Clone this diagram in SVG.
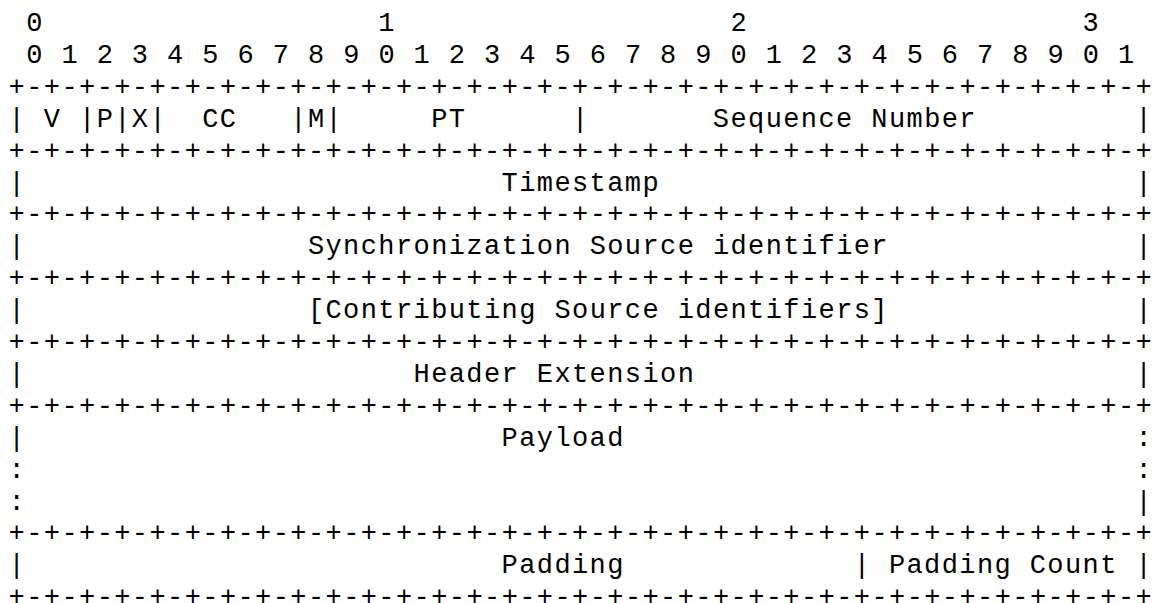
<svg xmlns="http://www.w3.org/2000/svg" xmlns:xlink="http://www.w3.org/1999/xlink" width="1152" height="603" viewBox="0 0 1152 603">
<style>
.t{font-family:"Liberation Mono","DejaVu Sans Mono",monospace;font-size:27px;letter-spacing:1.406px;fill:#000;white-space:pre}
.c{font-family:"Liberation Mono","DejaVu Sans Mono",monospace;font-size:27px;fill:#000}
</style>
<defs>
<g id="sep">
<text class="t" x="8.6" xml:space="preserve">+-+-+-+-+-+-+-+-+-+-+-+-+-+-+-+-+-+-+-+-+-+-+-+-+-+-+-+-+-+-+-+-</text>
<text class="c" x="1135.38">+</text>
</g>
</defs>
<rect width="1152" height="603" fill="#fff"/>
<g id="bit-numbers">
<text class="c" x="26.21" y="31">0</text>
<text class="c" x="378.33" y="31">1</text>
<text class="c" x="730.45" y="31">2</text>
<text class="c" x="1082.57" y="31">3</text>
<text class="t" x="26.21" y="62.9" xml:space="preserve">0 1 2 3 4 5 6 7 8 9 0 1 2 3 4 5 6 7 8 9 0 1 2 3 4 5 6 7 8 9 0 1</text>
</g>
<g id="connectors">
<use xlink:href="#sep" href="#sep" y="94.8"/>
<use xlink:href="#sep" href="#sep" y="158.6"/>
<use xlink:href="#sep" href="#sep" y="222.4"/>
<use xlink:href="#sep" href="#sep" y="286.2"/>
<use xlink:href="#sep" href="#sep" y="350"/>
<use xlink:href="#sep" href="#sep" y="413.8"/>
<use xlink:href="#sep" href="#sep" y="541.4"/>
<use xlink:href="#sep" href="#sep" y="605.2"/>
</g>
<g id="row-header-word0">
<text class="c" x="8.6" y="126.7">|</text>
<text class="c" x="43.81" y="126.7">V</text>
<text class="c" x="79.02" y="126.7">|</text>
<text class="c" x="96.63" y="126.7">P</text>
<text class="c" x="114.24" y="126.7">|</text>
<text class="c" x="131.84" y="126.7">X</text>
<text class="c" x="149.45" y="126.7">|</text>
<text class="t" x="202.27" y="126.7">CC</text>
<text class="c" x="290.3" y="126.7">|</text>
<text class="c" x="307.9" y="126.7">M</text>
<text class="c" x="325.51" y="126.7">|</text>
<text class="t" x="431.14" y="126.7">PT</text>
<text class="c" x="571.99" y="126.7">|</text>
<text class="t" x="712.84" y="126.7">Sequence Number</text>
<text class="c" x="1135.38" y="126.7">|</text>
</g>
<g id="row-timestamp">
<text class="c" x="8.6" y="190.5">|</text>
<text class="t" x="501.57" y="190.5">Timestamp</text>
<text class="c" x="1135.38" y="190.5">|</text>
</g>
<g id="row-ssrc">
<text class="c" x="8.6" y="254.3">|</text>
<text class="t" x="307.9" y="254.3">Synchronization Source identifier</text>
<text class="c" x="1135.38" y="254.3">|</text>
</g>
<g id="row-csrc">
<text class="c" x="8.6" y="318.1">|</text>
<text class="t" x="307.9" y="318.1">[Contributing Source identifiers]</text>
<text class="c" x="1135.38" y="318.1">|</text>
</g>
<g id="row-header-extension">
<text class="c" x="8.6" y="381.9">|</text>
<text class="t" x="413.54" y="381.9">Header Extension</text>
<text class="c" x="1135.38" y="381.9">|</text>
</g>
<g id="row-payload">
<text class="c" x="8.6" y="445.7">|</text>
<text class="t" x="501.57" y="445.7">Payload</text>
<text class="c" x="1135.38" y="445.7">:</text>
<text class="c" x="8.6" y="477.6">:</text>
<text class="c" x="1135.38" y="477.6">:</text>
<text class="c" x="8.6" y="509.5">:</text>
<text class="c" x="1135.38" y="509.5">|</text>
</g>
<g id="row-padding">
<text class="c" x="8.6" y="573.3">|</text>
<text class="t" x="501.57" y="573.3">Padding</text>
<text class="c" x="853.69" y="573.3">|</text>
<text class="t" x="888.9" y="573.3">Padding Count</text>
<text class="c" x="1135.38" y="573.3">|</text>
</g>
</svg>
